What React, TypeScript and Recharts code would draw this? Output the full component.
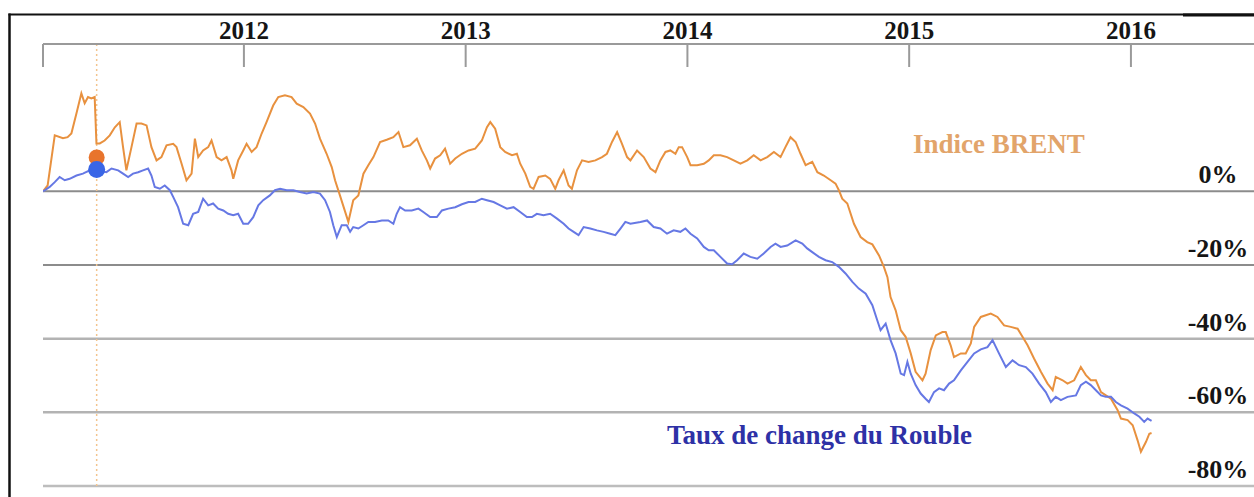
import React from 'react';
import { LineChart, Line, XAxis, YAxis, ReferenceLine, ReferenceDot } from 'recharts';

const yearTicks = [2012, 2013, 2014, 2015, 2016];
const axisStart = 2011.094;
const axisEnd = 2016.555;
const percentTicks = [0, -20, -40, -60, -80];

const brentDates = [
  2011.094, 2011.115, 2011.147, 2011.184, 2011.205, 2011.222, 2011.245, 2011.267, 2011.282, 2011.297,
  2011.312, 2011.327, 2011.335, 2011.350, 2011.372, 2011.395, 2011.418, 2011.440, 2011.455, 2011.470,
  2011.493, 2011.516, 2011.538, 2011.561, 2011.583, 2011.606, 2011.628, 2011.651, 2011.681, 2011.696,
  2011.719, 2011.741, 2011.764, 2011.779, 2011.794, 2011.816, 2011.839, 2011.854, 2011.877, 2011.899,
  2011.922, 2011.944, 2011.952, 2011.974, 2011.997, 2012.012, 2012.035, 2012.057, 2012.080, 2012.102,
  2012.132, 2012.155, 2012.185, 2012.215, 2012.238, 2012.268, 2012.298, 2012.321, 2012.343, 2012.373,
  2012.396, 2012.411, 2012.433, 2012.471, 2012.493, 2012.516, 2012.539, 2012.561, 2012.584, 2012.614,
  2012.644, 2012.674, 2012.697, 2012.719, 2012.749, 2012.780, 2012.802, 2012.825, 2012.840, 2012.862,
  2012.885, 2012.907, 2012.930, 2012.953, 2012.983, 2013.013, 2013.043, 2013.073, 2013.096, 2013.111,
  2013.133, 2013.156, 2013.178, 2013.209, 2013.231, 2013.246, 2013.269, 2013.291, 2013.306, 2013.329,
  2013.359, 2013.381, 2013.404, 2013.419, 2013.442, 2013.464, 2013.479, 2013.502, 2013.525, 2013.554,
  2013.585, 2013.615, 2013.637, 2013.660, 2013.683, 2013.705, 2013.728, 2013.743, 2013.773, 2013.803,
  2013.833, 2013.856, 2013.878, 2013.901, 2013.923, 2013.946, 2013.961, 2013.976, 2013.999, 2014.014,
  2014.044, 2014.074, 2014.096, 2014.119, 2014.149, 2014.179, 2014.209, 2014.239, 2014.270, 2014.299,
  2014.330, 2014.360, 2014.390, 2014.420, 2014.442, 2014.465, 2014.488, 2014.510, 2014.533, 2014.563,
  2014.586, 2014.615, 2014.646, 2014.668, 2014.683, 2014.698, 2014.721, 2014.751, 2014.781, 2014.811,
  2014.834, 2014.864, 2014.886, 2014.902, 2014.916, 2014.939, 2014.962, 2014.984, 2015.007, 2015.029,
  2015.060, 2015.074, 2015.097, 2015.120, 2015.150, 2015.165, 2015.187, 2015.202, 2015.233, 2015.255,
  2015.278, 2015.293, 2015.323, 2015.368, 2015.398, 2015.428, 2015.458, 2015.489, 2015.511, 2015.534,
  2015.563, 2015.594, 2015.624, 2015.647, 2015.661, 2015.692, 2015.714, 2015.744, 2015.774, 2015.797,
  2015.819, 2015.842, 2015.865, 2015.887, 2015.910, 2015.940, 2015.955, 2015.985, 2016.008, 2016.030,
  2016.045, 2016.068, 2016.083, 2016.093,
];

const brentValues = [
  0, 1.6, 15.2, 14.4, 14.7, 15.7, 21.2, 26.6, 23.9, 25.6,
  25.2, 25.6, 13.0, 13.0, 13.8, 15.2, 17.4, 18.8, 12.0, 5.7,
  12.0, 18.4, 18.4, 17.9, 12.0, 8.4, 9.3, 12.5, 12.9, 12.0,
  7.5, 3.0, 4.8, 14.3, 9.3, 11.1, 12.0, 13.8, 9.3, 8.4,
  9.3, 5.7, 3.4, 8.4, 11.1, 12.9, 10.7, 12.0, 15.7, 18.8,
  23.3, 25.6, 26.1, 25.6, 23.8, 22.9, 21.1, 18.4, 14.3, 10.2,
  6.6, 3.0, -1.1, -8.3, -2.4, -1.1, 4.8, 7.1, 9.3, 13.4,
  14.0, 14.7, 16.1, 12.0, 12.5, 14.3, 11.1, 8.4, 6.2, 8.9,
  9.8, 11.6, 7.5, 8.9, 10.2, 11.1, 11.6, 13.8, 17.4, 18.8,
  17.0, 12.0, 10.7, 9.8, 10.2, 7.5, 4.8, 1.2, 0.7, 3.9,
  4.3, 3.4, 0.7, 3.0, 5.7, 1.6, 0.7, 5.7, 8.4, 8.0,
  8.4, 9.3, 10.2, 13.4, 16.1, 12.9, 9.3, 8.4, 11.1, 9.3,
  6.2, 5.2, 8.4, 10.7, 11.1, 10.2, 12.0, 12.0, 9.3, 7.1,
  7.1, 7.5, 8.4, 9.8, 9.8, 9.3, 8.4, 7.5, 8.4, 9.8,
  8.4, 9.3, 10.7, 9.3, 12.0, 14.7, 13.4, 10.2, 7.1, 8.0,
  5.2, 4.3, 3.0, 2.1, 0.3, -2.0, -3.3, -8.8, -12.4, -13.8,
  -14.4, -17.4, -20.5, -23.3, -28.7, -32.3, -37.7, -39.5, -44.0, -49.0,
  -51.3, -49.5, -43.1, -39.1, -38.2, -38.2, -41.8, -45.0, -44.0, -44.0,
  -41.3, -36.8, -34.1, -33.2, -34.1, -36.4, -36.8, -37.3, -39.5, -41.8,
  -45.4, -49.0, -52.2, -54.0, -50.4, -51.3, -52.2, -51.3, -47.7, -49.9,
  -51.3, -51.3, -54.5, -55.4, -56.3, -59.4, -61.7, -62.1, -63.5, -67.6,
  -70.7, -68.0, -65.8, -65.6,
];

const roubleDates = [
  2011.094, 2011.124, 2011.147, 2011.169, 2011.192, 2011.214, 2011.245, 2011.274, 2011.305, 2011.336,
  2011.380, 2011.403, 2011.433, 2011.455, 2011.478, 2011.500, 2011.523, 2011.545, 2011.568, 2011.583,
  2011.598, 2011.621, 2011.643, 2011.666, 2011.681, 2011.703, 2011.726, 2011.749, 2011.771, 2011.794,
  2011.816, 2011.839, 2011.861, 2011.884, 2011.907, 2011.929, 2011.952, 2011.974, 2011.997, 2012.019,
  2012.042, 2012.065, 2012.087, 2012.117, 2012.140, 2012.163, 2012.193, 2012.223, 2012.253, 2012.283,
  2012.313, 2012.343, 2012.366, 2012.388, 2012.403, 2012.419, 2012.441, 2012.464, 2012.479, 2012.493,
  2012.516, 2012.539, 2012.561, 2012.591, 2012.622, 2012.651, 2012.674, 2012.689, 2012.704, 2012.727,
  2012.757, 2012.787, 2012.809, 2012.840, 2012.870, 2012.893, 2012.922, 2012.953, 2012.983, 2013.013,
  2013.043, 2013.073, 2013.096, 2013.126, 2013.156, 2013.186, 2013.216, 2013.246, 2013.276, 2013.299,
  2013.321, 2013.351, 2013.381, 2013.412, 2013.442, 2013.464, 2013.487, 2013.509, 2013.532, 2013.562,
  2013.592, 2013.622, 2013.652, 2013.675, 2013.698, 2013.720, 2013.743, 2013.788, 2013.818, 2013.848,
  2013.878, 2013.908, 2013.938, 2013.968, 2013.991, 2014.014, 2014.044, 2014.074, 2014.096, 2014.119,
  2014.149, 2014.179, 2014.202, 2014.224, 2014.254, 2014.284, 2014.315, 2014.344, 2014.375, 2014.397,
  2014.420, 2014.450, 2014.488, 2014.518, 2014.540, 2014.563, 2014.593, 2014.623, 2014.653, 2014.683,
  2014.713, 2014.744, 2014.773, 2014.804, 2014.834, 2014.856, 2014.871, 2014.894, 2014.916, 2014.939,
  2014.962, 2014.977, 2014.992, 2015.007, 2015.029, 2015.052, 2015.074, 2015.089, 2015.112, 2015.135,
  2015.157, 2015.180, 2015.202, 2015.233, 2015.263, 2015.293, 2015.323, 2015.353, 2015.376, 2015.405,
  2015.436, 2015.466, 2015.496, 2015.526, 2015.556, 2015.586, 2015.616, 2015.639, 2015.661, 2015.684,
  2015.714, 2015.752, 2015.774, 2015.797, 2015.819, 2015.842, 2015.865, 2015.887, 2015.910, 2015.932,
  2015.955, 2015.985, 2016.015, 2016.038, 2016.060, 2016.075, 2016.093,
];

const roubleValues = [
  0, 1.2, 2.5, 3.9, 3.0, 3.4, 4.3, 4.8, 5.7, 5.7,
  5.2, 6.2, 5.7, 4.8, 3.9, 4.8, 5.2, 5.7, 6.2, 4.3,
  1.2, 0.7, 1.6, 0.3, -1.5, -4.3, -8.8, -9.2, -6.1, -5.6,
  -2.0, -3.8, -3.3, -4.7, -5.2, -6.1, -6.5, -6.1, -8.8, -8.8,
  -7.0, -3.8, -2.4, -1.1, 0.3, 0.7, 0.3, 0.3, -0.2, -0.6,
  -0.2, -0.6, -2.4, -5.6, -9.2, -12.4, -9.2, -9.2, -11.0, -9.7,
  -10.1, -9.2, -8.3, -8.3, -7.9, -7.9, -8.8, -6.1, -4.3, -5.2,
  -5.2, -4.7, -5.6, -7.0, -7.0, -5.2, -4.7, -4.3, -3.5, -2.9,
  -2.9, -2.0, -2.4, -2.9, -3.8, -4.7, -4.3, -5.6, -7.0, -7.0,
  -6.1, -6.5, -6.1, -7.4, -8.8, -10.1, -11.0, -11.9, -9.7, -10.1,
  -10.6, -11.0, -11.5, -11.9, -10.1, -8.3, -8.8, -8.3, -7.9, -9.7,
  -10.1, -11.5, -10.6, -11.0, -10.1, -11.5, -12.8, -15.1, -16.0, -16.0,
  -17.8, -19.6, -19.8, -18.7, -16.9, -17.8, -18.3, -16.9, -15.1, -14.2,
  -15.1, -14.7, -13.3, -14.2, -15.5, -16.5, -17.8, -18.7, -19.2, -20.5,
  -22.3, -24.6, -26.4, -27.8, -30.9, -35.0, -37.7, -35.9, -40.4, -44.0,
  -49.5, -49.9, -46.3, -49.5, -52.6, -54.9, -56.3, -57.2, -54.5, -53.5,
  -54.0, -52.2, -51.3, -48.6, -46.3, -44.0, -42.9, -42.3, -40.4, -44.0,
  -47.7, -45.9, -47.2, -47.7, -49.5, -52.2, -54.5, -57.2, -55.8, -56.7,
  -55.8, -55.4, -52.6, -51.7, -52.6, -54.0, -55.4, -55.8, -55.8, -57.2,
  -58.1, -59.0, -60.3, -61.2, -62.6, -61.7, -62.3,
];

const markerDate = 2011.336;
const markerBrent = 9.2;
const markerRouble = 5.9;

const brentLabel = 'Indice BRENT';
const roubleLabel = 'Taux de change du Rouble';

const FONT = '"Liberation Serif", "Times New Roman", serif';
const BRENT_COLOR = '#E8913F';
const ROUBLE_COLOR = '#6678E4';

const brentData = brentDates.map((t, i) => ({ t, v: brentValues[i] }));
const roubleData = roubleDates.map((t, i) => ({ t, v: roubleValues[i] }));

const gridStyles: Record<number, { stroke: string; width: number }> = {
  0: { stroke: '#8c8c8c', width: 2 },
  [-20]: { stroke: '#8c8c8c', width: 2 },
  [-40]: { stroke: '#b3b3b3', width: 2.5 },
  [-60]: { stroke: '#b3b3b3', width: 2.5 },
  [-80]: { stroke: '#bdbdbd', width: 2.5 },
};

const XTick = (props: any) => {
  const { x, y, payload } = props;
  const isYear = Number.isInteger(payload.value);
  return (
    <g>
      <line x1={x} x2={x} y1={y + 6} y2={y + 29} stroke="#9a9a9a" strokeWidth={2} />
      {isYear && (
        <text x={x} y={y + 1} textAnchor="middle" fontFamily={FONT} fontWeight="bold" fontSize={25} fill="#151515">
          {payload.value}
        </text>
      )}
    </g>
  );
};

const makePercentLabel = (value: number) => (props: any) => {
  const vb = props.viewBox || {};
  const x = (vb.x || 0) + (vb.width || 0) - 36;
  const y = (vb.y || 0) - 8;
  return (
    <text x={x} y={y} textAnchor="middle" fontFamily={FONT} fontWeight="bold" fontSize={26} fill="#151515">
      {`${value}%`}
    </text>
  );
};

export default function App() {
  return (
    <div style={{ position: 'absolute', left: 0, top: 0, width: 1254, height: 497, background: '#ffffff', overflow: 'hidden' }}>
      <LineChart width={1254} height={497} margin={{ top: 14, right: 0, bottom: 11, left: 43 }}>
        <XAxis
          xAxisId={0}
          type="number"
          dataKey="t"
          orientation="top"
          height={30}
          domain={[axisStart, axisEnd]}
          allowDataOverflow
          ticks={[axisStart, ...yearTicks]}
          interval={0}
          tickLine={false}
          tickSize={0}
          tickMargin={6}
          axisLine={{ stroke: '#9a9a9a', strokeWidth: 2 }}
          tick={(p: any) => <XTick {...p} />}
        />
        <YAxis
          yAxisId={0}
          type="number"
          hide
          domain={[-80, 40]}
          allowDataOverflow
          ticks={percentTicks}
        />
        {percentTicks.map((p) => (
          <ReferenceLine
            key={p}
            y={p}
            stroke={gridStyles[p].stroke}
            strokeWidth={gridStyles[p].width}
            ifOverflow="visible"
            label={makePercentLabel(p)}
          />
        ))}
        <ReferenceLine x={markerDate} stroke="#F2C48E" strokeWidth={1.5} strokeDasharray="2 3" />
        <Line
          data={brentData}
          dataKey="v"
          type="linear"
          stroke={BRENT_COLOR}
          strokeWidth={2}
          dot={false}
          activeDot={false}
          isAnimationActive={false}
        />
        <Line
          data={roubleData}
          dataKey="v"
          type="linear"
          stroke={ROUBLE_COLOR}
          strokeWidth={2}
          dot={false}
          activeDot={false}
          isAnimationActive={false}
        />
        <ReferenceDot x={markerDate} y={markerBrent} r={8} fill="#E8742C" stroke="none" />
        <ReferenceDot x={markerDate} y={markerRouble} r={8.5} fill="#3A66E6" stroke="none" />
      </LineChart>
      <svg
        width={1254}
        height={497}
        style={{ position: 'absolute', left: 0, top: 0, pointerEvents: 'none' }}
      >
        <line x1={9.5} x2={9.5} y1={13.5} y2={497} stroke="#111" strokeWidth={2.5} />
        <line x1={8.5} x2={1254} y1={14.5} y2={14.5} stroke="#111" strokeWidth={2} />
        <line x1={1183} x2={1254} y1={15} y2={15} stroke="#111" strokeWidth={3} />
        <text x={913} y={153} fontFamily={FONT} fontWeight="bold" fontSize={27} fill="#E2A46A">
          {brentLabel}
        </text>
        <text x={667} y={444} fontFamily={FONT} fontWeight="bold" fontSize={27} fill="#2E31A6">
          {roubleLabel}
        </text>
      </svg>
    </div>
  );
}
